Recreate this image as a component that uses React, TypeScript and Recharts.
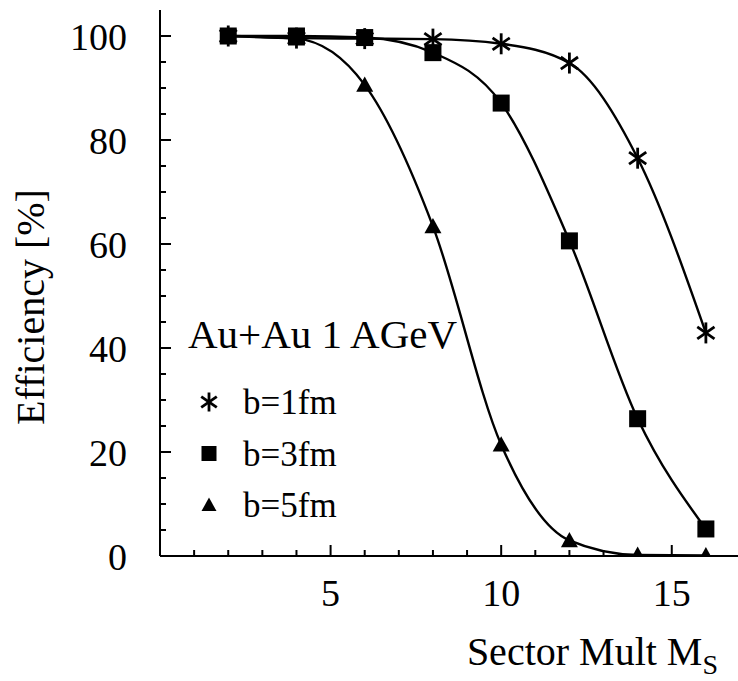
import React from 'react';
import { ComposedChart, Line, XAxis, YAxis, Legend } from 'recharts';

const xValues = [2, 4, 6, 8, 10, 12, 14, 16];
const b1Values = [100, 99.6, 99.5, 99.4, 98.5, 94.8, 76.5, 42.9];
const b3Values = [100, 100, 99.7, 96.8, 87.1, 60.6, 26.4, 5.2];
const b5Values = [100, 99.5, 90.6, 63.4, 21.4, 3.0, 0.2, 0.1];

const xTicks = [1, 2, 3, 4, 5, 6, 7, 8, 9, 10, 11, 12, 13, 14, 15, 16];
const yTicks = [0, 5, 10, 15, 20, 25, 30, 35, 40, 45, 50, 55, 60, 65, 70, 75, 80, 85, 90, 95, 100];

const seriesList = [
  { key: 'b1', name: 'b=1fm', shape: 'star' },
  { key: 'b5', name: 'b=5fm', shape: 'triangle' },
  { key: 'b3', name: 'b=3fm', shape: 'square' },
];
const legendOrder = ['b=1fm', 'b=3fm', 'b=5fm'];
const legendTitle = 'Au+Au 1 AGeV';
const xTitle = 'Sector Mult M';
const xTitleSub = 'S';
const yTitle = 'Efficiency [%]';

const data = xValues.map((x, i) => ({ x, b1: b1Values[i], b3: b3Values[i], b5: b5Values[i] }));

const FONT = '"Liberation Serif", "Times New Roman", serif';

function Marker({ shape, cx, cy, size }: { shape: string; cx: number; cy: number; size: number }) {
  if (cx == null || cy == null || isNaN(cx) || isNaN(cy)) return null;
  const h = size / 2;
  if (shape === 'star') {
    const r = h;
    const ang = (35 * Math.PI) / 180;
    const a = Math.cos(ang) * r;
    const b = Math.sin(ang) * r;
    return (
      <g stroke="#000" strokeWidth={2.8}>
        <line x1={cx} y1={cy - r} x2={cx} y2={cy + r} />
        <line x1={cx - a} y1={cy - b} x2={cx + a} y2={cy + b} />
        <line x1={cx - a} y1={cy + b} x2={cx + a} y2={cy - b} />
      </g>
    );
  }
  if (shape === 'square') {
    return <rect x={cx - h} y={cy - h} width={size} height={size} fill="#000" />;
  }
  const th = size * 0.9;
  return (
    <path
      d={`M${cx},${cy - th * 0.55} L${cx + h},${cy + th * 0.45} L${cx - h},${cy + th * 0.45} Z`}
      fill="#000"
    />
  );
}

const makeDot = (shape: string, size: number) => (props: any) => (
  <Marker key={`${shape}-${props.index}`} shape={shape} cx={props.cx} cy={props.cy} size={size} />
);

const BottomTick = (props: any) => {
  const { x, y, payload } = props;
  const v = payload.value;
  const major = v % 5 === 0;
  return (
    <g>
      <line x1={x} y1={y} x2={x} y2={y - (major ? 11 : 6)} stroke="#000" strokeWidth={2} />
      {major && (
        <text x={x} y={y + 50} textAnchor="middle" fontSize={38} fontFamily={FONT} fill="#000">
          {v}
        </text>
      )}
    </g>
  );
};

const TopTick = (props: any) => {
  const { x, y, payload } = props;
  const major = payload.value % 5 === 0;
  return <line x1={x} y1={y} x2={x} y2={y + (major ? 11 : 6)} stroke="#000" strokeWidth={2} />;
};

const LeftTick = (props: any) => {
  const { x, y, payload } = props;
  const v = payload.value;
  const major = v % 20 === 0;
  return (
    <g>
      <line x1={x} y1={y} x2={x + (major ? 11 : 6)} y2={y} stroke="#000" strokeWidth={2} />
      {major && (
        <text x={x - 33} y={y + 14} textAnchor="end" fontSize={38} fontFamily={FONT} fill="#000">
          {v}
        </text>
      )}
    </g>
  );
};

const RightTick = (props: any) => {
  const { x, y, payload } = props;
  const major = payload.value % 20 === 0;
  return <line x1={x} y1={y} x2={x - (major ? 11 : 6)} y2={y} stroke="#000" strokeWidth={2} />;
};

const YTitle = (props: any) => {
  const vb = props.viewBox || { x: 0, y: 10, width: 160, height: 546 };
  const cx = vb.x + 44;
  const cy = vb.y + vb.height / 2 + 24;
  return (
    <text
      x={cx}
      y={cy}
      transform={`rotate(-90 ${cx} ${cy})`}
      textAnchor="middle"
      fontSize={40}
      fontFamily={FONT}
      fill="#000"
    >
      {yTitle}
    </text>
  );
};

const XTitle = (props: any) => {
  const vb = props.viewBox || { x: 160, y: 556, width: 580, height: 125 };
  const ex = vb.x + vb.width - 22;
  const by = vb.y + 109;
  return (
    <text x={ex} y={by} textAnchor="end" fontSize={40} fontFamily={FONT} fill="#000">
      {xTitle}
      <tspan fontSize={28} dy={9}>
        {xTitleSub}
      </tspan>
    </text>
  );
};

const LegendContent = (props: any) => {
  const payload = (props.payload || []) as any[];
  const items = legendOrder
    .map((n) => payload.find((p) => p.value === n))
    .filter(Boolean)
    .map((p: any) => ({ name: p.value, shape: seriesList.find((s) => s.name === p.value)!.shape }));
  return (
    <svg width={320} height={230} style={{ display: 'block' }}>
      <text x={8} y={48} fontSize={41} fontFamily={FONT} fill="#000">
        {legendTitle}
      </text>
      {items.map((it, i) => (
        <g key={it.name}>
          <Marker shape={it.shape} cx={29} cy={102 + i * 51.5} size={it.shape === 'star' ? 19 : 15} />
          <text x={63} y={114 + i * 51.5} fontSize={35} fontFamily={FONT} fill="#000">
            {it.name}
          </text>
        </g>
      ))}
    </svg>
  );
};

export default function App() {
  return (
    <div style={{ position: 'absolute', left: 0, top: 0, width: 738, height: 681, overflow: 'hidden', background: '#fff' }}>
      <ComposedChart width={740} height={681} data={data} margin={{ top: 10, right: 0, bottom: 0, left: 0 }}>
        <XAxis
          xAxisId="bottom"
          dataKey="x"
          type="number"
          domain={[0, 17]}
          ticks={xTicks}
          interval={0}
          height={125}
          tickSize={0}
          tickMargin={0}
          tickLine={false}
          axisLine={{ stroke: '#000', strokeWidth: 2 }}
          tick={<BottomTick />}
          label={<XTitle />}
        />
        <XAxis
          xAxisId="top"
          orientation="top"
          dataKey="x"
          type="number"
          domain={[0, 17]}
          ticks={xTicks}
          interval={0}
          height={0}
          tickSize={0}
          tickMargin={0}
          tickLine={false}
          axisLine={{ stroke: '#000', strokeWidth: 2 }}
          tick={<TopTick />}
        />
        <YAxis
          yAxisId="left"
          type="number"
          domain={[0, 105]}
          allowDataOverflow
          ticks={yTicks}
          interval={0}
          width={160}
          tickSize={0}
          tickMargin={0}
          tickLine={false}
          axisLine={{ stroke: '#000', strokeWidth: 2 }}
          tick={<LeftTick />}
          label={<YTitle />}
        />
        <YAxis
          yAxisId="right"
          orientation="right"
          type="number"
          domain={[0, 105]}
          allowDataOverflow
          ticks={yTicks}
          interval={0}
          width={0}
          tickSize={0}
          tickMargin={0}
          tickLine={false}
          axisLine={{ stroke: '#000', strokeWidth: 2 }}
          tick={<RightTick />}
        />
        <Legend
          layout="vertical"
          align="center"
          verticalAlign="middle"
          wrapperStyle={{ left: 180, top: 300, width: 320, height: 230 }}
          content={<LegendContent />}
        />
        {seriesList.map((s) => (
          <Line
            key={s.key}
            xAxisId="bottom"
            yAxisId="left"
            type="monotone"
            dataKey={s.key}
            name={s.name}
            stroke="#000"
            strokeWidth={2.4}
            dot={makeDot(s.shape, s.shape === 'star' ? 21 : 17)}
            activeDot={false}
            isAnimationActive={false}
          />
        ))}
      </ComposedChart>
    </div>
  );
}
